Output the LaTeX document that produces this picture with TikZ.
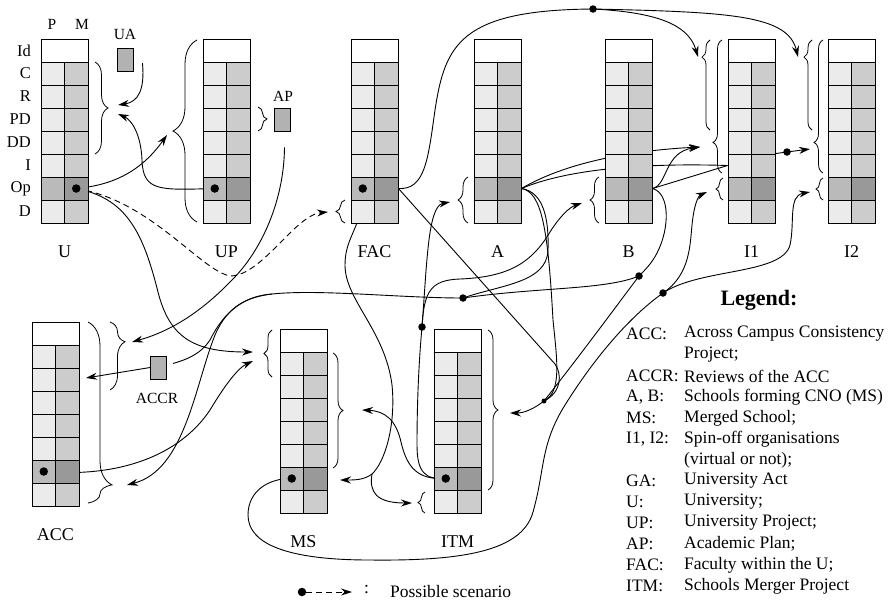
\documentclass[tikz,border=0pt]{standalone}
\usepackage{fontspec}
\setmainfont{Liberation Serif}
\usetikzlibrary{arrows.meta,decorations.pathreplacing,shapes.misc,backgrounds,calc}

\colorlet{cellP}{black!8}
\colorlet{cellM}{black!20}
\colorlet{opP}{black!27}
\colorlet{opM}{black!40}

\newcommand{\acttable}[4]{%
  \begin{scope}[shift={(#2,#3)}]
    \node[cell, minimum width=47pt] (#1-id) at (23.5,11.5) {};
    \foreach \rw/\pf/\mf in {1/cellP/cellM,2/cellP/cellM,3/cellP/cellM,4/cellP/cellM,5/cellP/cellM,6/opP/opM,7/cellP/cellM}{
      \node[cell, fill=\pf] (#1-p\rw) at (11.75,{11.5+23*\rw}) {};
      \node[cell, fill=\mf] (#1-m\rw) at (35.25,{11.5+23*\rw}) {};
    }
    \node[tlabel] (#1-name) at (23.5,213) {#4};
  \end{scope}}

\begin{document}
\begin{tikzpicture}[x=1pt, y=-1pt,
  cell/.style={draw, line width=0.9pt, fill=white, minimum width=23.5pt, minimum height=23pt, inner sep=0pt},
  tlabel/.style={font=\fontsize{18}{20}\selectfont},
  rowlbl/.style={anchor=east, inner sep=0pt, font=\fontsize{16.5}{18}\selectfont},
  small/.style={font=\fontsize{15.5}{17}\selectfont},
  doc/.style={draw, line width=0.9pt, fill=black!30, chamfered rectangle, chamfered rectangle corners=north east, chamfered rectangle xsep=3pt, minimum width=16pt, minimum height=23pt, inner sep=0pt},
  brace/.style={decorate, line width=0.8pt},
  arr/.style={-{Stealth[length=11pt,width=7pt]}, line width=0.9pt},
  line/.style={line width=0.9pt},
  dot/.style={circle, fill, inner sep=0pt, minimum size=8.5pt},
  legtxt/.style={anchor=west, inner sep=0pt, font=\fontsize{17.5}{20}\selectfont}
]
\useasboundingbox (0,0) rectangle (893,603);

\acttable{U}{41}{39}{U}
\acttable{UP}{203}{39}{UP}
\acttable{FAC}{351}{39}{FAC}
\acttable{A}{474}{39}{A}
\acttable{B}{605}{39}{B}
\acttable{I1}{728}{39}{I1}
\acttable{I2}{828}{39}{I2}
\acttable{ACC}{32}{322}{ACC}
\acttable{MS}{280}{329}{MS}
\acttable{ITM}{434}{329}{ITM}

\foreach \lab [count=\i from 0] in {Id,C,R,PD,DD,I,Op,D}
  \node[rowlbl] (row-\i) at (31,{50.5+23*\i}) {\lab};
\node[small] (colP) at (52,24) {P};
\node[small] (colM) at (82,24) {M};

\node[doc] (UA) at (125,60) {};
\node[small] (UA-name) at (125,34) {UA};
\node[doc] (AP) at (282.5,119.5) {};
\node[small] (AP-name) at (283,96) {AP};
\node[doc] (ACCR) at (158.5,367.5) {};
\node[small] (ACCR-name) at (157,398) {ACCR};

\node[dot] (U-dot) at (U-m6) {};
\node[dot] (UP-dot) at (UP-p6) {};
\node[dot] (FAC-dot) at (FAC-p6) {};
\node[dot] (ITM-dot) at (ITM-p6) {};
\node[dot] (MS-dot) at (MS-p6) {};
\node[dot] (ACC-dot) at (ACC-p6) {};
\node[dot, minimum size=7.5pt] (T) at (593,9) {};
\node[dot, minimum size=7.5pt] (D0) at (422,327) {};
\node[dot, minimum size=7.5pt] (D1) at (463,298) {};
\node[dot, minimum size=7.5pt] (D2) at (639,276) {};
\node[dot, minimum size=7.5pt] (D3) at (663,293) {};
\node[dot, minimum size=5pt] (M) at (544,401) {};
\node[dot, minimum size=7.5pt] (E1) at (787,152) {};

\draw[brace, decoration={brace,amplitude=13pt}] (95,62) -- (95,154);
\draw[brace, decoration={brace,amplitude=24pt}] (197,222) -- (197,40);
\draw[brace, decoration={brace,amplitude=9pt}] (258,107) -- (258,131);
\draw[brace, decoration={brace,amplitude=9pt}] (345,223) -- (345,200);
\draw[brace, decoration={brace,amplitude=10pt}] (468,223) -- (468,177);
\draw[brace, decoration={brace,amplitude=9pt}] (599,223) -- (599,177);
\draw[brace, decoration={brace,amplitude=8pt,aspect=0.81}] (710,130) -- (710,40);
\draw[brace, decoration={brace,amplitude=9pt,aspect=0.23}] (722,173) -- (722,40);
\draw[brace, decoration={brace,amplitude=7pt}] (723,200) -- (723,178);
\draw[brace, decoration={brace,amplitude=8pt,aspect=0.81}] (812,130) -- (812,40);
\draw[brace, decoration={brace,amplitude=9pt,aspect=0.23}] (823,173) -- (823,40);
\draw[brace, decoration={brace,amplitude=7pt}] (823,200) -- (823,178);
\draw[brace, decoration={brace,amplitude=24pt,aspect=0.9}] (88,322) -- (88,503);
\draw[brace, decoration={brace,amplitude=15pt,aspect=0.29}] (110,322) -- (110,390);
\draw[brace, decoration={brace,amplitude=8pt}] (272,377) -- (272,330);
\draw[brace, decoration={brace,amplitude=10pt}] (333,353) -- (333,468);
\draw[brace, decoration={brace,amplitude=10pt}] (488,330) -- (488,490);
\draw[brace, decoration={brace,amplitude=7pt}] (425,513) -- (425,492);

\coordinate (Ub-a) at (118,105);
\coordinate (Ub-b) at (118,114);
\coordinate (UPb-in) at (167,135);
\coordinate (FACb-in) at (328,212);
\coordinate (Ab-in) at (450,202);
\coordinate (Bb-in) at (582,203);
\coordinate (I1b1-in) at (698,57);
\coordinate (I1b2-in) at (700,147);
\coordinate (I1b3-in) at (707,192);
\coordinate (I2b1-in) at (798,57);
\coordinate (I2b2-in) at (810,149);
\coordinate (I2b3-in) at (810,192);
\coordinate (ACCb1-in) at (127,485);
\coordinate (ACCb2-in) at (132,342);
\coordinate (ACC-in) at (86,378);
\coordinate (MSb1-a) at (253,352);
\coordinate (MSb1-b) at (253,361);
\coordinate (MSb2-in) at (362,410);
\coordinate (MS-in) at (340,480);
\coordinate (ITMb1-in) at (510,413);
\coordinate (ITMb2-in) at (412,503);
\coordinate (J1) at (272,294);
\coordinate (J2) at (372,474);

\begin{pgfonlayer}{background}
\draw[arr] ($(UA.east)+(9,3)$) .. controls (145,90) and (138,102) .. (Ub-a);
\draw[arr] (UP-dot.center) .. controls (160,190) and (143,192) .. (142,160) .. controls (141,135) and (132,120) .. (Ub-b);
\draw[arr] (U-dot.center) .. controls (115,185) and (142,170) .. (UPb-in);
\draw[arr, dash pattern=on 6pt off 4pt] (U-dot.center) .. controls (150,200) and (200,270) .. (230,276) .. controls (262,276) and (295,215) .. (FACb-in);
\draw[arr] (U-dot.center) .. controls (125,198) and (142,230) .. (157,288) .. controls (168,335) and (190,352) .. (MSb1-a);
\draw[arr] ($(AP.south)+(2,16)$) .. controls (284,200) and (262,250) .. (232,280) .. controls (205,308) and (175,330) .. (ACCb2-in);
\draw[arr] (ACCR.west) -- (ACC-in);
\draw[line] (D1.center) .. controls (400,298) and (320,289) .. (J1);
\draw[line] (J1) .. controls (245,296) and (225,310) .. (210,340) .. controls (200,355) and (185,360) .. ($(ACCR.east)+(6,-4)$);
\draw[arr] (J1) .. controls (248,297) and (228,305) .. (215,335) .. controls (195,385) and (185,470) .. (ACCb1-in);
\draw[arr] (ACC-dot.center) .. controls (120,478) and (180,455) .. (210,410) .. controls (225,385) and (238,368) .. (MSb1-b);
\draw[line] (FAC-m6.east) .. controls (425,190) and (428,160) .. (435,110) .. controls (445,45) and (460,10) .. (T.center);
\draw[arr] (T.center) .. controls (650,12) and (688,22) .. (I1b1-in);
\draw[arr] (T.center) .. controls (730,12) and (788,15) .. (I2b1-in);
\draw[line] (FAC-m6.east) -- (555,364) .. controls (562,374) and (562,392) .. (M.center);
\draw[line] (A-m6.east) .. controls (542,192) and (548,230) .. (553,320) .. controls (557,360) and (562,392) .. (M.center);
\draw[line] (D2.center) .. controls (612,312) and (575,362) .. (M.center);
\draw[arr] (M.center) .. controls (535,408) and (525,413) .. (ITMb1-in);
\draw[line] (A-m6.east) .. controls (544,192) and (549,220) .. (548,250) .. controls (547,283) and (500,285) .. (D1.center);
\draw[line] (D1.center) .. controls (540,287) and (605,290) .. (D2.center);
\draw[line] (B-m6.east) .. controls (670,193) and (670,228) .. (657,253) .. controls (652,263) and (645,270) .. (D2.center);
\draw[arr] (A-m6.east) .. controls (570,160) and (640,150) .. (I1b2-in);
\draw[line] (A-m6.east) .. controls (570,168) and (650,163) .. (I1-p5.west);
\draw[line] (B-m6.east) -- (I1-p5.west);
\draw[arr] (B-m6.east) .. controls (668,185) and (664,152) .. (I1b2-in);
\draw[arr] (I1-m5.north east) -- (E1.center) -- (I2b2-in);
\draw[line] (ITM-dot.center) .. controls (425,480) and (417,472) .. (417,445) .. controls (417,400) and (419,360) .. (D0.center);
\draw[arr] (D0.center) .. controls (427,262) and (428,206) .. (Ab-in);
\draw[arr] (D0.center) .. controls (424,292) and (430,280) .. (460,279) .. controls (510,277) and (532,262) .. (550,232) .. controls (560,216) and (570,207) .. (Bb-in);
\draw[arr] (ITM-dot.center) .. controls (418,480) and (407,468) .. (401,442) .. controls (396,420) and (385,411) .. (MSb2-in);
\draw[line] (FAC-dot.center) .. controls (363,228) and (345,235) .. (345,265) .. controls (345,300) and (385,330) .. (392,385) .. controls (396,425) and (385,462) .. (J2);
\draw[arr] (J2) .. controls (364,480) and (355,480) .. (MS-in);
\draw[arr] (J2) .. controls (369,492) and (376,503) .. (ITMb2-in);
\draw[line] (MS-dot.center) .. controls (270,478) and (248,490) .. (248,515) .. controls (248,545) and (290,560) .. (370,560) .. controls (460,561) and (522,552) .. (533,512) .. controls (545,470) and (540,445) .. (565,405) .. controls (590,365) and (625,320) .. (D3.center);
\draw[arr] (D3.center) .. controls (690,275) and (690,245) .. (692,225) .. controls (694,205) and (698,196) .. (I1b3-in);
\draw[arr] (D3.center) .. controls (700,268) and (782,275) .. (790,245) .. controls (795,222) and (788,196) .. (I2b3-in);
\end{pgfonlayer}

\node[dot] (lg-dot) at (302,592) {};
\coordinate (lg-end) at (352,592);
\draw[arr, dash pattern=on 6pt off 4pt] (lg-dot) -- (lg-end);
\node[legtxt] (lg-colon) at (364,590) {:};
\node[legtxt] (lg-text) at (390,592) {Possible scenario};

\node[font=\fontsize{22}{24}\selectfont\bfseries] (leg) at (759,300) {Legend:};
\foreach \y/\k/\v [count=\i] in {334/ACC:/Across Campus Consistency, 355//Project;, 376/ACCR:/Reviews of the ACC, 397/{A, B:}/Schools forming CNO (MS), 418/MS:/Merged School;, 439/{I1, I2:}/Spin-off organisations, 460//(virtual or not);, 481/GA:/University Act, 502/U:/University;, 523/UP:/University Project;, 544/AP:/Academic Plan;, 565/FAC:/Faculty within the U;, 586/ITM:/Schools Merger Project}{
  \node[legtxt] (leg-k\i) at (626,\y) {\k};
  \node[legtxt] (leg-v\i) at (684,\y) {\v};
}
\end{tikzpicture}
\end{document}
